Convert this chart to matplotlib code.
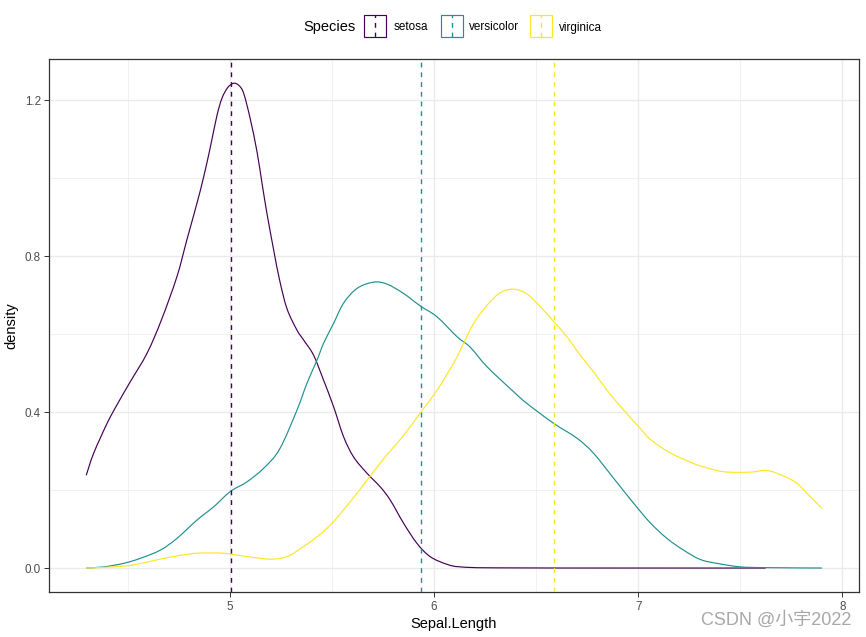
import matplotlib
matplotlib.use("Agg")
import numpy as np
import matplotlib.pyplot as plt
from matplotlib.patches import Rectangle, PathPatch
from matplotlib.path import Path
from matplotlib.lines import Line2D

plt.rcParams['font.family'] = ['Liberation Sans', 'DejaVu Sans']

species = ["setosa", "versicolor", "virginica"]
colors = ["#440154", "#21908C", "#FDE725"]
means = [5.006, 5.936, 6.588]

setosa_x = [4.297, 4.333, 4.399, 4.448, 4.513, 4.595, 4.665, 4.741, 4.790, 4.839,
            4.872, 4.905, 4.937, 4.962, 4.990, 5.019, 5.045, 5.068, 5.100, 5.133, 5.158, 5.182,
            5.215, 5.244, 5.280, 5.329, 5.361, 5.410, 5.459, 5.508, 5.557, 5.606, 5.672,
            5.737, 5.786, 5.851, 5.917, 5.982, 6.064, 6.129, 6.300, 7.000, 7.624]
setosa_y = [0.238, 0.294, 0.371, 0.419, 0.478, 0.551, 0.636, 0.747, 0.842, 0.935,
            1.003, 1.080, 1.160, 1.205, 1.232, 1.243, 1.237, 1.217, 1.152, 1.068, 0.986, 0.909,
            0.815, 0.738, 0.665, 0.610, 0.585, 0.546, 0.482, 0.414, 0.337, 0.285, 0.243,
            0.208, 0.174, 0.115, 0.063, 0.029, 0.0095, 0.003, 0.0005, 0.0, 0.0]

versicolor_x = [4.297, 4.382, 4.480, 4.562, 4.660, 4.741, 4.839, 4.921, 5.002, 5.084, 5.166,
                5.244, 5.329, 5.378, 5.427, 5.459, 5.508, 5.557, 5.623, 5.704,
                5.770, 5.851, 5.933, 6.015, 6.113, 6.178, 6.260, 6.390, 6.455, 6.586, 6.700,
                6.782, 6.880, 6.978, 7.059, 7.141, 7.222, 7.304, 7.386, 7.500, 7.624, 7.900]
versicolor_y = [0.0, 0.003, 0.012, 0.025, 0.046, 0.076, 0.123, 0.157, 0.196, 0.221, 0.256,
                0.305, 0.405, 0.474, 0.533, 0.576, 0.627, 0.679, 0.717, 0.733,
                0.728, 0.704, 0.672, 0.644, 0.593, 0.566, 0.516, 0.452, 0.422, 0.371, 0.333,
                0.294, 0.230, 0.166, 0.116, 0.076, 0.046, 0.022, 0.012, 0.003, 0.001, 0.0]

virginica_x = [4.297, 4.431, 4.529, 4.643, 4.741, 4.839, 4.970, 5.051, 5.182, 5.247, 5.296,
               5.361, 5.427, 5.492, 5.557, 5.623, 5.688, 5.753, 5.851, 5.933, 6.015, 6.096,
               6.129, 6.194, 6.260, 6.325, 6.390, 6.455, 6.521, 6.586, 6.651, 6.716, 6.782,
               6.847, 6.929, 7.010, 7.059, 7.141, 7.222, 7.304, 7.418, 7.549, 7.631,
               7.712, 7.778, 7.843, 7.900]
virginica_y = [0.0, 0.003, 0.008, 0.021, 0.031, 0.038, 0.038, 0.032, 0.023, 0.025, 0.033,
               0.055, 0.080, 0.110, 0.149, 0.192, 0.236, 0.280, 0.340, 0.398, 0.456, 0.525,
               0.559, 0.627, 0.674, 0.706, 0.715, 0.703, 0.670, 0.632, 0.593, 0.546, 0.503,
               0.456, 0.405, 0.358, 0.330, 0.300, 0.279, 0.262, 0.247, 0.246, 0.250,
               0.236, 0.217, 0.183, 0.153]

xticks = [5, 6, 7, 8]
yticks = [0.0, 0.4, 0.8, 1.2]
ytick_labels = ["0.0", "0.4", "0.8", "1.2"]


def smooth_path(xs, ys):
    """Catmull-Rom curve through the read points, expressed as cubic Bezier segments."""
    p = np.column_stack([xs, ys]).astype(float)
    n = len(p)
    verts = [p[0]]
    codes = [Path.MOVETO]
    for i in range(n - 1):
        p0 = p[i - 1] if i > 0 else p[i]
        p1, p2 = p[i], p[i + 1]
        p3 = p[i + 2] if i + 2 < n else p[i + 1]
        c1 = p1 + (p2 - p0) / 6.0
        c2 = p2 - (p3 - p1) / 6.0
        verts += [c1, c2, p2]
        codes += [Path.CURVE4] * 3
    return Path(verts, codes)


W, H = 866, 637
fig = plt.figure(figsize=(W / 100, H / 100), dpi=100)
L, R, T, B = 49.3, 858.5, 58.6, 592.3
ax = fig.add_axes([L / W, 1 - B / H, (R - L) / W, (B - T) / H])

grid_c = "#EBEBEB"
for v in [4.5, 5.5, 6.5, 7.5]:
    ax.axvline(v, color=grid_c, lw=0.5, zorder=0)
for v in [0.2, 0.6, 1.0]:
    ax.axhline(v, color=grid_c, lw=0.5, zorder=0)
for v in xticks:
    ax.axvline(v, color=grid_c, lw=1.0, zorder=0)
for v in yticks:
    ax.axhline(v, color=grid_c, lw=1.0, zorder=0)

data = [(setosa_x, setosa_y), (versicolor_x, versicolor_y), (virginica_x, virginica_y)]
for (xs, ys), c in zip(data, colors):
    ax.add_patch(PathPatch(smooth_path(xs, ys), facecolor="none", edgecolor=c,
                           lw=0.85, zorder=2))
for m, c in zip(means, colors):
    ax.axvline(m, color=c, lw=1.0, linestyle=(0, (3.5, 3.5)), zorder=3)

ax.set_xlim(4.116, 8.079)
ax.set_ylim(-0.0622, 1.3062)
ax.set_xticks(xticks)
ax.set_xticklabels([str(v) for v in xticks])
ax.set_yticks(yticks)
ax.set_yticklabels(ytick_labels)
ax.tick_params(axis="both", colors="#333333", labelcolor="#4D4D4D", labelsize=8.4,
               length=3.5, width=0.7, pad=2.5)
for s in ax.spines.values():
    s.set_color("#333333")
    s.set_linewidth(0.9)
ax.set_xlabel("Sepal.Length", fontsize=10.5, color="black", labelpad=3)
ax.set_ylabel("density", fontsize=10.5, color="black", labelpad=5)


def fx(px):
    return px / W


def fy(py):
    return 1 - py / H


fig.text(fx(303.3), fy(27.5), "Species", fontsize=10.5, va="center", ha="left")
key_x = [364.0, 440.7, 530.0]
lab_x = [393.3, 469.0, 559.3]
kw, kh = 22.0, 21.4
ky0 = 15.3
for sp, c, kx, lx in zip(species, colors, key_x, lab_x):
    fig.add_artist(Rectangle((fx(kx), fy(ky0 + kh)), kw / W, kh / H, fill=False,
                             edgecolor=c, lw=0.85, transform=fig.transFigure))
    fig.add_artist(Line2D([fx(kx + kw / 2)] * 2, [fy(ky0 + kh), fy(ky0)], color=c, lw=1.0,
                          linestyle=(0, (3.5, 3.5)), transform=fig.transFigure))
    fig.text(fx(lx), fy(27.5), sp, fontsize=8.4, va="center", ha="left")

fig.text(fx(851), fy(620), "CSDN @小宇2022", fontsize=13, color="#A8A8A8",
         ha="right", va="center", family=["Liberation Sans", "Noto Sans CJK SC"])

fig.savefig("out.png", dpi=100, facecolor="white")
